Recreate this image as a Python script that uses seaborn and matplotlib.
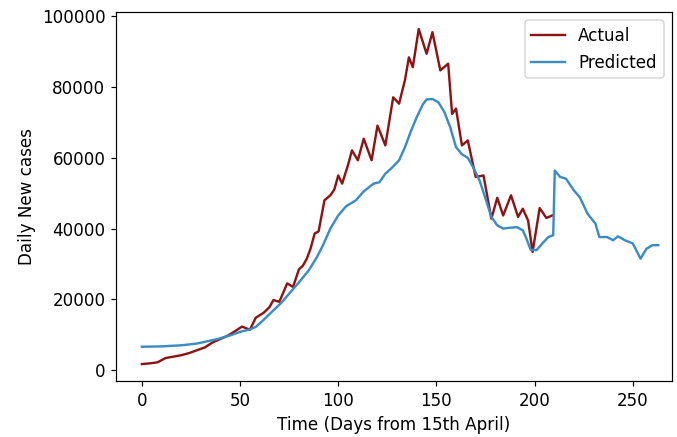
'''
Actual vs predicted daily new cases, counted in days from 15th April.
'''
import pandas as pd
import seaborn as sns
import matplotlib
matplotlib.use('Agg')
import matplotlib.pyplot as plt

# Values
actual_days = [0, 4, 8, 12, 16, 20, 24, 28, 32, 36, 40, 44, 48, 51, 55,
               58, 62, 65, 67, 70, 74, 77, 80, 82, 84, 86, 88, 90, 93, 96,
               98, 100, 102, 105, 107, 110, 113, 117, 120, 124, 128, 131,
               134, 136, 138, 141, 145, 148, 152, 156, 158, 160, 163, 166,
               170, 174, 178, 181, 184, 188, 191.6, 194, 196.7, 199, 202.6,
               206, 209]
actual_cases = [1700, 1900, 2200, 3400, 3800, 4200, 4800, 5600, 6400, 7800,
                8800, 9800, 11200, 12300, 11400, 14800, 16200, 17800, 19800,
                19300, 24500, 23500, 28500, 29500, 31500, 34500, 38600, 39200,
                48000, 49400, 51000, 55000, 52700, 58000, 62100, 59300, 65400,
                59300, 69100, 63500, 77100, 75300, 82000, 88400, 85600, 96400,
                89400, 95500, 84700, 86600, 72400, 73900, 63500, 64900, 54600,
                55000, 42800, 48700, 43700, 49400, 43300, 45600, 42300, 33400,
                45800, 43000, 43700]

predicted_days = [0, 10, 20, 28, 38, 45, 50, 55, 58, 62, 67, 71, 75, 80, 85,
                  89, 92, 96, 100, 104, 109, 113, 118, 121, 124, 127, 131,
                  134, 137, 140, 143, 145, 148, 151, 154, 157, 160, 163, 166,
                  169, 172, 175, 178, 181, 184, 187, 191, 194, 196, 198, 201,
                  204, 207, 209.5, 210.3, 213, 216, 220, 223, 227, 231, 233,
                  237, 240, 242.5, 246, 250, 254, 257, 260, 263]
predicted_cases = [6600, 6700, 7000, 7500, 8700, 9800, 10800, 11500, 12200,
                   14200, 16900, 19000, 21600, 24800, 28200, 31800, 35000,
                   40000, 43700, 46300, 48000, 50500, 52700, 53100, 55500,
                   57000, 59300, 63000, 67500, 71500, 75000, 76500, 76600,
                   75700, 73000, 68700, 63000, 61000, 60000, 57000, 53600,
                   48500, 43300, 40900, 40000, 40200, 40400, 39500, 37000,
                   34000, 33900, 35800, 37600, 38100, 56400, 54600, 54100,
                   50800, 48900, 44200, 41400, 37600, 37600, 36700, 37800,
                   36700, 35800, 31500, 34300, 35300, 35300]


def main():
    actual = pd.DataFrame({'day': actual_days, 'cases': actual_cases})
    predicted = pd.DataFrame({'day': predicted_days,
                              'cases': predicted_cases})

    plt.rcParams['font.size'] = 11.2
    fig = plt.figure(figsize=(677 / 108, 437 / 108), dpi=108)
    ax = fig.add_axes([0.1713, 0.128, 0.8213, 0.8445])

    # Plot both series
    sns.lineplot(x='day', y='cases', data=actual, color='#8b1414',
                 linewidth=1.6, label='Actual', ax=ax)
    sns.lineplot(x='day', y='cases', data=predicted, color='#3a8cc1',
                 linewidth=1.6, label='Predicted', ax=ax)

    ax.set_xlim(-13.2, 270)
    ax.set_ylim(-3100, 101200)
    ax.set_xticks([0, 50, 100, 150, 200, 250])
    ax.set_yticks([0, 20000, 40000, 60000, 80000, 100000])
    ax.set_xlabel('Time (Days from 15th April)')
    ax.set_ylabel('Daily New cases')
    ax.legend(loc='upper right')

    fig.savefig('out.png', dpi=108)


if __name__ == '__main__':
    main()
